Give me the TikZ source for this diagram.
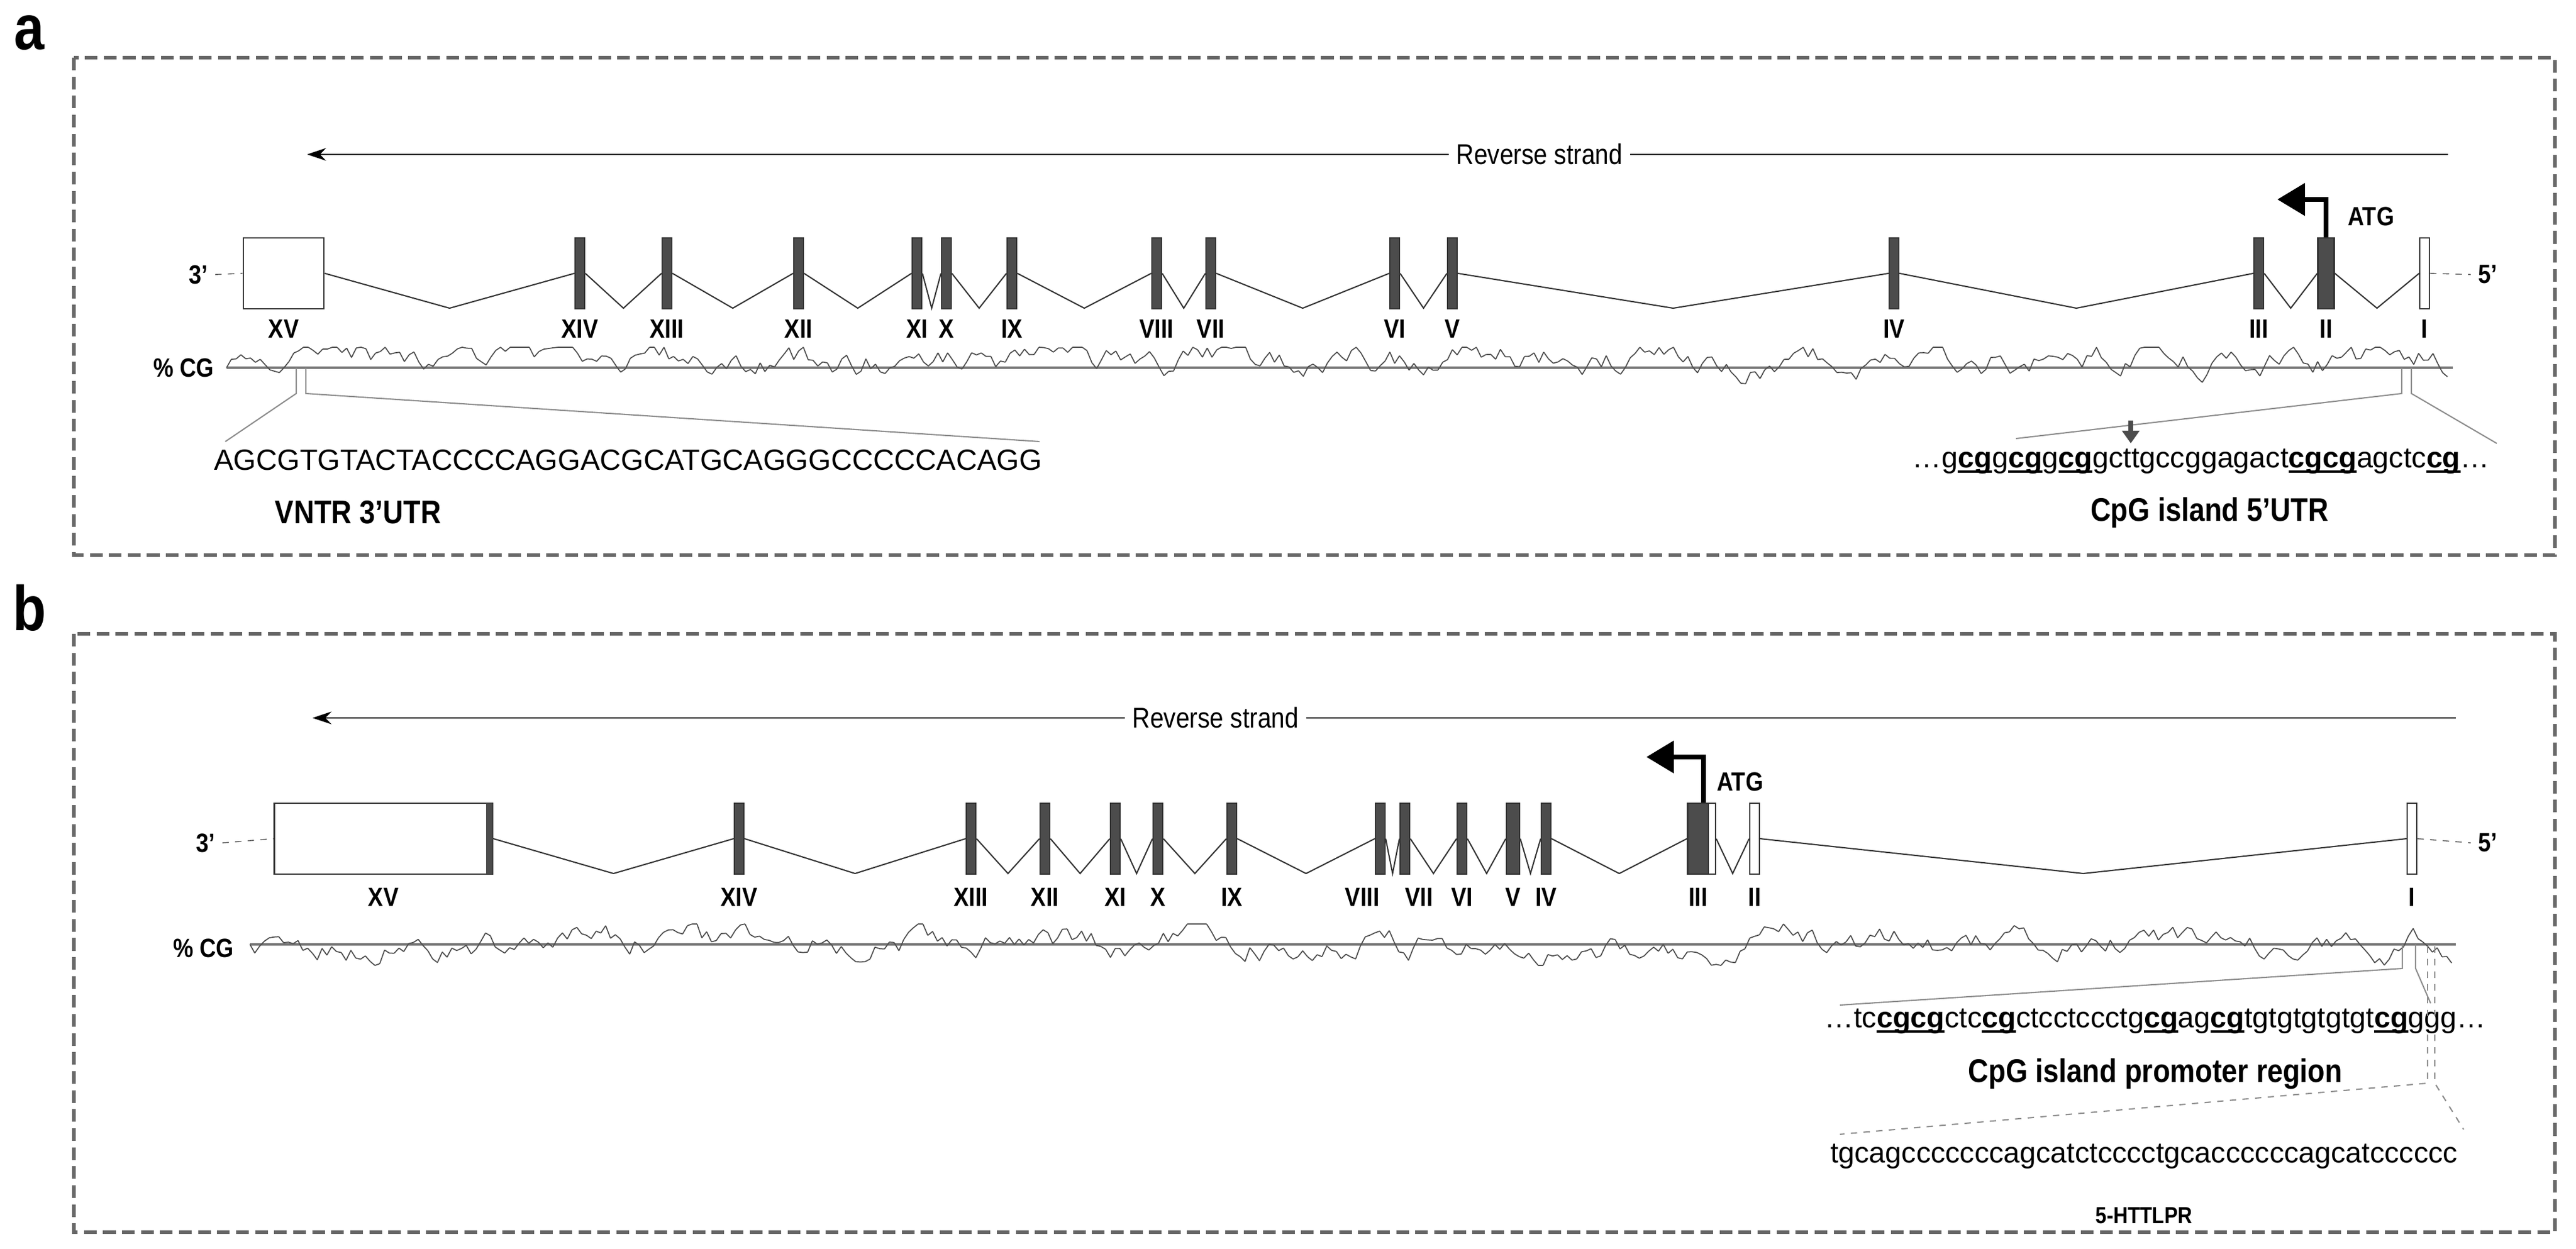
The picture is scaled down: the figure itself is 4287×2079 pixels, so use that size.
\documentclass[tikz,border=0pt]{standalone}
\usepackage{fontspec}
\setmainfont{Liberation Sans}[FakeStretch=0.86]
\newfontfamily\seqfont{Liberation Sans}
\usepackage{tikz}
\usetikzlibrary{arrows.meta,calc,positioning}
\newcommand{\cgb}[1]{\setbox0\hbox{\bfseries #1}\rlap{\rule[-2.5pt]{\wd0}{1.1pt}}\box0}
% jagged GC profile: random walk from x0 to x1 on baseline y0, bias upward #4
\newcommand{\cgprofile}[4]{%
  \xdef\cglast{0}%
  \pgfmathtruncatemacro\cgsecond{#1+8}%
  \foreach \xx in {#1,\cgsecond,...,#2} {%
    \pgfmathsetmacro\cgnew{max(-35,min(34,0.8*\cglast+17*rand+0.2*#4))}%
    \draw[black!70,line width=0.5pt] (\xx-8,#3-\cglast) -- (\xx,#3-\cgnew);
    \xdef\cglast{\cgnew}%
  }}
\tikzset{
  exon/.style={draw=black!80,fill=black!70,line width=0.6pt,minimum width=0.16cm,minimum height=1.18cm,inner sep=0pt},
  utr/.style={exon,fill=white},
  elab/.style={font=\bfseries\fontsize{12.5}{12.5}\selectfont},
  seq/.style={font=\seqfont\fontsize{13.8}{13.8}\selectfont},
  panel/.style={draw=black!60,line width=1.6pt,dash pattern=on 6pt off 3pt},
  intron/.style={draw=black!80,line width=0.6pt},
  zoomline/.style={draw=black!45,line width=0.6pt},
}
\begin{document}
\begin{tikzpicture}[x=0.01cm,y=-0.01cm]
\useasboundingbox (0,0) rectangle (4287,2079);
\pgfmathsetseed{11}
% ---------- panel a
\node[font=\bfseries\fontsize{30}{30}\selectfont] (pa) at (49,55) {a};
\draw[panel] (123,96) rectangle (4252,924);
\node[font=\fontsize{13.5}{13.5}\selectfont] (rsa) at (2562,257) {Reverse strand};
\coordinate (rsaR) at (4074,257);
\coordinate (rsaL) at (511,257);
\draw[line width=0.8pt] (rsaR) -- (rsa.east);
\draw[line width=0.8pt,-{Stealth[length=9pt,width=6pt]}] (rsa.west) -- (rsaL);
\node[draw=black!80,line width=0.8pt,fill=white,minimum width=1.34cm,minimum height=1.18cm,inner sep=0pt] (a15) at (472,455) {};
\foreach \n/\x in {14/965,13/1110,12/1329,11/1526,10/1575,9/1684,8/1925,7/2015,6/2321,5/2417,4/3152,3/3759}
  \node[exon] (a\n) at (\x,455) {};
\node[exon,minimum width=0.27cm] (a2) at (3871,455) {};
\node[utr] (a1) at (4035,455) {};
\foreach \a/\b in {15/14,14/13,13/12,12/11,11/10,10/9,9/8,8/7,7/6,6/5,5/4,4/3,3/2,2/1}
  \draw[intron] (a\a.east) -- ($(a\a.east)!.5!(a\b.west)+(0,58)$) -- (a\b.west);
\foreach \n/\t in {15/XV,14/XIV,13/XIII,12/XII,11/XI,10/X,9/IX,8/VIII,7/VII,6/VI,5/V,4/IV,3/III,2/II,1/I}
  \node[elab] at (a\n |- 0,547) {\t};
\node[elab] (a3p) at (330,457) {3’};
\draw[dashed,black!70] (a3p.east) -- (a15.west);
\node[elab] (a5p) at (4140,457) {5’};
\draw[dashed,black!70] (a1.east) -- (a5p.west);
\coordinate (atgA) at (3790,332);
\draw[line width=2.2pt,-{Triangle[length=13pt,width=15pt]}] (a2.north) |- (atgA);
\node[elab,anchor=west] (atga) at (3895,360) {ATG};
\node[elab] (cga) at (306,612) {\% CG};
\draw[black!55,line width=1.4pt] (377,612) -- (4082,612);
\cgprofile{385}{4080}{612}{14}
% zooms a
\draw[zoomline] (493,612) -- (493,655) -- (375,735);
\draw[zoomline] (509,612) -- (509,655) -- (1730,735);
\node[seq] (vntr) at (1045,766) {AGCGTGTACTACCCCAGGACGCATGCAGGGCCCCCACAGG};
\node[font=\bfseries\fontsize{15.5}{15.5}\selectfont] at (596,853) {VNTR 3’UTR};
\draw[zoomline] (3997,612) -- (3997,655) -- (3355,730);
\draw[zoomline] (4013,612) -- (4013,655) -- (4155,738);
\draw[black!70,line width=2.5pt,-{Triangle[length=6pt,width=8pt]}] (3546,700) -- (3546,738);
\node[seq] (cpga) at (3663,768) {…g\cgb{cg}g\cgb{cg}g\cgb{cg}gcttgccggagact\cgb{cgcg}agctc\cgb{cg}…};
\node[font=\bfseries\fontsize{15.5}{15.5}\selectfont] at (3677,853) {CpG island 5’UTR};
% ---------- panel b
\node[font=\bfseries\fontsize{30}{30}\selectfont] (pb) at (49,1012) {b};
\draw[panel] (123,1055) rectangle (4252,2051);
\node[font=\fontsize{13.5}{13.5}\selectfont] (rsb) at (2023,1195) {Reverse strand};
\coordinate (rsbR) at (4087,1195);
\coordinate (rsbL) at (520,1195);
\draw[line width=0.8pt] (rsbR) -- (rsb.east);
\draw[line width=0.8pt,-{Stealth[length=9pt,width=6pt]}] (rsb.west) -- (rsbL);
\node[draw=black!80,line width=0.8pt,fill=white,minimum width=3.63cm,minimum height=1.18cm,inner sep=0pt] (b15) at (638,1396) {};
\fill[black!70] (809,1337) rectangle (820,1455);
\foreach \n/\x in {14/1230,13/1616,12/1739,11/1856,10/1927,9/2050,8/2297,7/2338,6/2433,4/2573}
  \node[exon] (b\n) at (\x,1396) {};
\node[exon,minimum width=0.22cm] (b5) at (2518,1396) {};
\node[exon,minimum width=0.35cm] (b3) at (2826,1396) {};
\node[utr,minimum width=0.12cm] (b3w) at (2849,1396) {};
\node[utr] (b2) at (2920,1396) {};
\node[utr] (b1) at (4014,1396) {};
\foreach \a/\b in {15/14,14/13,13/12,12/11,11/10,10/9,9/8,8/7,7/6,6/5,5/4,4/3,3w/2,2/1}
  \draw[intron] (b\a.east) -- ($(b\a.east)!.5!(b\b.west)+(0,58)$) -- (b\b.west);
\foreach \n/\t in {15/XV,14/XIV,13/XIII,12/XII,11/XI,10/X,9/IX,6/VI,5/V,4/IV,3/III,2/II,1/I}
  \node[elab] at (b\n |- 0,1493) {\t};
\node[elab,anchor=east] at (2308,1493) {VIII};
\node[elab,anchor=west] at (2326,1493) {VII};
\node[elab] (b3p) at (342,1403) {3’};
\draw[dashed,black!70] (b3p.east) -- (b15.west);
\node[elab] (b5p) at (4140,1403) {5’};
\draw[dashed,black!70] (b1.east) -- (b5p.west);
\coordinate (atgB) at (2740,1260);
\draw[line width=2.2pt,-{Triangle[length=13pt,width=15pt]}] (b3.north -| 2835,0) |- (atgB);
\node[elab,anchor=west] (atgb) at (2845,1301) {ATG};
\node[elab] (cgb) at (339,1578) {\% CG};
\draw[black!55,line width=1.4pt] (416,1572) -- (4087,1572);
\cgprofile{424}{4085}{1572}{3}
% zooms b
\draw[zoomline] (3998,1572) -- (3998,1612) -- (3062,1673);
\draw[zoomline] (4020,1572) -- (4020,1612) -- (4045,1670);
\node[seq] (cpgb) at (3587,1700) {…tc\cgb{cgcg}ctc\cgb{cg}ctcctccctg\cgb{cg}ag\cgb{cg}tgtgtgtgtgt\cgb{cg}ggg…};
\node[font=\bfseries\fontsize{15.5}{15.5}\selectfont] at (3587,1788) {CpG island promoter region};
\draw[zoomline,dashed] (4040,1575) -- (4040,1700);
\draw[zoomline,dashed] (4052,1575) -- (4052,1700);
\draw[zoomline,dashed] (4040,1722) -- (4040,1803) -- (3062,1888);
\draw[zoomline,dashed] (4052,1722) -- (4052,1803) -- (4100,1880);
\node[seq] (httl) at (3568,1925) {tgcagcccccccagcatctcccctgcaccccccagcatcccccc};
\node[font=\bfseries\fontsize{11}{11}\selectfont] at (3568,2023) {5-HTTLPR};
\end{tikzpicture}
\end{document}
